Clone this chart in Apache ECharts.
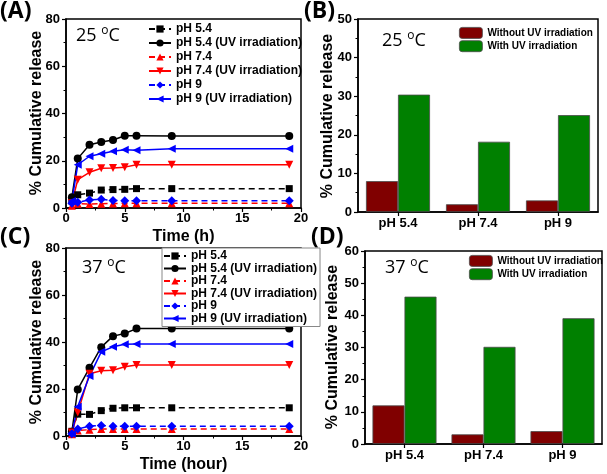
<!DOCTYPE html>
<html><head><meta charset="utf-8">
<script src="https://cdn.jsdelivr.net/npm/echarts@6/dist/echarts.min.js"></script>
<style>html,body{margin:0;padding:0;background:#fff}#c{width:607px;height:474px}</style>
</head><body><div id="c"></div>
<script>
const times = [0.5, 1, 2, 3, 4, 5, 6, 9, 19];
const seriesNames = ['pH 5.4', 'pH 5.4 (UV irradiation)', 'pH 7.4', 'pH 7.4 (UV irradiation)', 'pH 9', 'pH 9 (UV irradiation)'];
// Panel A, 25 °C
const a_pH54   = [3, 5.6, 6.3, 7.6, 7.8, 7.9, 8.2, 8.2, 8.2];
const a_pH54UV = [4.5, 20.9, 26.8, 27.9, 28.8, 30.6, 30.6, 30.5, 30.5];
const a_pH74   = [1, 1.8, 1.7, 1.8, 1.9, 2, 2, 2, 2];
const a_pH74UV = [2, 12, 15.1, 16.8, 16.9, 17.3, 18.3, 18.3, 18.3];
const a_pH9    = [2, 2.4, 3.4, 3.7, 3.2, 3.1, 3.1, 3.1, 3.1];
const a_pH9UV  = [3, 18.3, 21.9, 23, 24, 24.7, 24.4, 25.1, 25.1];
// Panel C, 37 °C
const c_pH54   = [2, 9.3, 9.2, 10.8, 11.8, 12, 12, 12, 12];
const c_pH54UV = [1.8, 19.8, 29, 37.8, 42.5, 43.6, 45.7, 45.7, 45.7];
const c_pH74   = [0.7, 2.3, 2.7, 3, 3, 3, 3, 3, 3];
const c_pH74UV = [1.5, 10, 26.5, 27.8, 28, 29.5, 30.2, 30.2, 30.2];
const c_pH9    = [1, 3, 4.2, 4.5, 4.1, 4.1, 4.1, 4.1, 4.1];
const c_pH9UV  = [1, 12.5, 25.5, 35.8, 38, 39, 39.1, 39.2, 39.2];
// Bars
const barCats = ['pH 5.4', 'pH 7.4', 'pH 9'];
const barNames = ['Without UV irradiation', 'With UV irradiation'];
const b_without = [8, 2, 3];
const b_with = [30.4, 18.2, 25.1];
const d_without = [12, 3, 4];
const d_with = [45.8, 30.2, 39.1];

const FONT = 'Liberation Sans';
const lineStyles = [
  {color: '#000', symbol: 'rect', rot: 0, dash: true, size: 7},
  {color: '#000', symbol: 'circle', rot: 0, dash: false, size: 8},
  {color: '#ff0000', symbol: 'triangle', rot: 0, dash: true, size: 8},
  {color: '#ff0000', symbol: 'triangle', rot: 180, dash: false, size: 8},
  {color: '#0000ff', symbol: 'diamond', rot: 0, dash: true, size: 9},
  {color: '#0000ff', symbol: 'triangle', rot: 90, dash: false, size: 8}
];

function pairs(arr) { return times.map((t, i) => [t, arr[i]]); }

function valueXAxis(idx, name) {
  return {
    type: 'value', gridIndex: idx, min: 0, max: 20, interval: 5,
    name: name, nameLocation: 'middle', nameGap: 21,
    nameTextStyle: {fontFamily: FONT, fontWeight: 'bold', fontSize: 16, color: '#000'},
    axisLine: {show: true, lineStyle: {color: '#000', width: 1.5}},
    axisTick: {show: true, inside: false, length: 4, lineStyle: {color: '#000', width: 1.2}},
    minorTick: {show: true, splitNumber: 2, length: 2.5, lineStyle: {color: '#000', width: 1}},
    axisLabel: {fontFamily: FONT, fontWeight: 'bold', fontSize: 13, color: '#000', margin: 4},
    splitLine: {show: false}
  };
}
function valueYAxis(idx, max, interval, minorSplit) {
  return {
    type: 'value', gridIndex: idx, min: 0, max: max, interval: interval,
    axisLine: {show: true, lineStyle: {color: '#000', width: 1.5}},
    axisTick: {show: true, inside: false, length: 4, lineStyle: {color: '#000', width: 1.2}},
    minorTick: {show: true, splitNumber: minorSplit, length: 2.5, lineStyle: {color: '#000', width: 1}},
    axisLabel: {fontFamily: FONT, fontWeight: 'bold', fontSize: 13, color: '#000', margin: 6},
    splitLine: {show: false}
  };
}
function catXAxis(idx) {
  return {
    type: 'category', gridIndex: idx, data: barCats,
    axisLine: {show: true, lineStyle: {color: '#000', width: 1.5}},
    axisTick: {show: true, alignWithLabel: true, length: 4, lineStyle: {color: '#000', width: 1.2}},
    axisLabel: {fontFamily: FONT, fontWeight: 'bold', fontSize: 13, color: '#000', margin: 5},
    splitLine: {show: false}
  };
}

const series = [];
[[a_pH54, a_pH54UV, a_pH74, a_pH74UV, a_pH9, a_pH9UV], [c_pH54, c_pH54UV, c_pH74, c_pH74UV, c_pH9, c_pH9UV]].forEach((set, g) => {
  set.forEach((arr, i) => {
    const st = lineStyles[i];
    series.push({
      type: 'line', name: seriesNames[i], xAxisIndex: g === 0 ? 0 : 2, yAxisIndex: g === 0 ? 0 : 2,
      data: pairs(arr), symbol: st.symbol, symbolSize: st.size, symbolRotate: st.rot,
      showAllSymbol: true,
      lineStyle: {color: st.color, width: 1.5, type: st.dash ? [6, 4] : 'solid'},
      itemStyle: {color: st.color, borderWidth: 0},
      emphasis: {disabled: true}, animation: false
    });
  });
});
[[b_without, b_with, 1], [d_without, d_with, 3]].forEach(([w0, w1, gi]) => {
  series.push({type: 'bar', name: barNames[0], xAxisIndex: gi, yAxisIndex: gi, data: w0, barWidth: 32, barGap: '0%',
    itemStyle: {color: '#800000', borderColor: '#4a4a4a', borderWidth: 0.8}, animation: false});
  series.push({type: 'bar', name: barNames[1], xAxisIndex: gi, yAxisIndex: gi, data: w1, barWidth: 32, barGap: '0%',
    itemStyle: {color: '#008000', borderColor: '#4a4a4a', borderWidth: 0.8}, animation: false});
});

const legendText = {fontFamily: FONT, fontWeight: 'bold', fontSize: 12, color: '#000'};
const barLegendText = {fontFamily: FONT, fontWeight: 'bold', fontSize: 10, color: '#000'};
const rich = {
  a: {fontFamily: 'Open Sans', fontSize: 18, color: '#000'},
  s: {fontFamily: 'Open Sans', fontSize: 12, color: '#000', padding: [0, 0, 9, 0]}
};
function tempText(x, y, t) {
  return {type: 'text', left: x, top: y, style: {text: '{a|' + t + ' }{s|o}{a|C}', rich: rich, fill: '#000'}};
}
function panelLabel(x, y, t) {
  return {type: 'text', left: x, top: y, style: {text: t, font: 'bold 23px "Open Sans"', fill: '#000'}};
}
function yName(x, cy, t) {
  return {type: 'text', x: x, y: cy, rotation: Math.PI / 2,
    style: {text: t, font: 'bold 16px "Liberation Sans"', fill: '#000', align: 'center', verticalAlign: 'middle'}};
}

const option = {
  backgroundColor: '#fff',
  animation: false,
  grid: [
    {left: 66, top: 19, width: 235, height: 189, show: true, borderColor: '#000', borderWidth: 1.5, backgroundColor: 'transparent'},
    {left: 358, top: 19, width: 240, height: 193, show: true, borderColor: '#000', borderWidth: 1.5, backgroundColor: 'transparent'},
    {left: 66, top: 248, width: 235, height: 188, show: true, borderColor: '#000', borderWidth: 1.5, backgroundColor: 'transparent'},
    {left: 365, top: 251, width: 237, height: 193, show: true, borderColor: '#000', borderWidth: 1.5, backgroundColor: 'transparent'}
  ],
  xAxis: [valueXAxis(0, 'Time (h)'), catXAxis(1), valueXAxis(2, 'Time (hour)'), catXAxis(3)],
  yAxis: [valueYAxis(0, 80, 20, 2), valueYAxis(1, 50, 10, 2), valueYAxis(2, 80, 20, 2), valueYAxis(3, 60, 10, 2)],
  legend: [
    {data: seriesNames, left: 148, top: 23, orient: 'vertical', itemWidth: 22, itemHeight: 9, itemGap: 2,
      textStyle: legendText, padding: 0, selectedMode: false},
    {data: seriesNames, left: 162, top: 248, orient: 'vertical', itemWidth: 22, itemHeight: 9, itemGap: 0.5,
      textStyle: legendText, padding: [2, 3, 2, 1], selectedMode: false, borderColor: '#888', borderWidth: 1, backgroundColor: '#fff'},
    {data: barNames, left: 459, top: 27, orient: 'vertical', itemWidth: 23, itemHeight: 11, itemGap: 1.5,
      textStyle: barLegendText, padding: 0, selectedMode: false, itemStyle: {borderColor: '#4a4a4a', borderWidth: 0.8}},
    {data: barNames, left: 469, top: 255, orient: 'vertical', itemWidth: 23, itemHeight: 11, itemGap: 1.5,
      textStyle: barLegendText, padding: 0, selectedMode: false, itemStyle: {borderColor: '#4a4a4a', borderWidth: 0.8}}
  ],
  graphic: [
    panelLabel(0, 0, '(A)'), panelLabel(304, 0, '(B)'), panelLabel(0, 226, '(C)'), panelLabel(311, 226, '(D)'),
    tempText(76, 25, '25'), tempText(382, 30, '25'), tempText(82, 257, '37'), tempText(385, 257, '37'),
    yName(37, 113, '% Cumulative release'), yName(328, 116, '% Cumulative release'),
    yName(37, 342, '% Cumulative release'), yName(333, 347, '% Cumulative release')
  ],
  series: series
};
const chart = echarts.init(document.getElementById('c'), null, {renderer: 'canvas'});
chart.setOption(option);
</script></body></html>
